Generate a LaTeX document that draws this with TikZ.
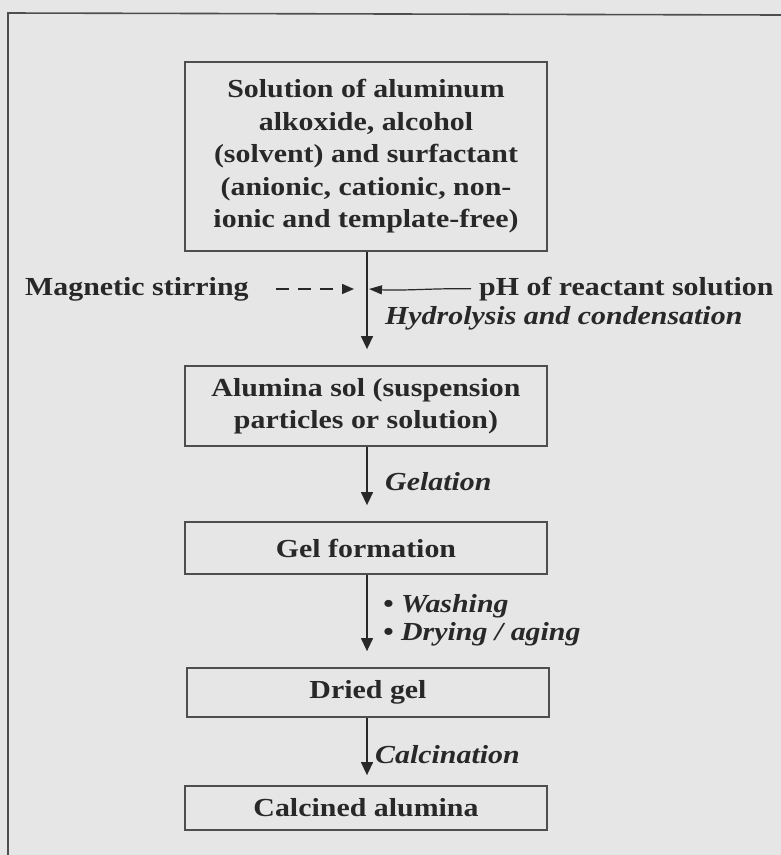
\documentclass[tikz,border=0pt]{standalone}
\usepackage{fontspec}
\setmainfont{Liberation Serif}[FakeStretch=1.15]
\usepackage{tikz}
\usetikzlibrary{positioning, arrows.meta}

\definecolor{paper}{RGB}{230,230,230}
\definecolor{ink}{RGB}{40,40,40}
\definecolor{edge}{RGB}{78,78,78}

\begin{document}
\begin{tikzpicture}[
  x=1pt, y=-1pt,
  font=\fontsize{26}{32.5}\selectfont\bfseries,
  text=ink,
  stepbox/.style={draw=edge, line width=1.8pt, minimum width=362pt,
    inner sep=0pt, align=center},
  flow/.style={draw=ink, line width=1.3pt, shorten >=16pt,
    -{Triangle[length=13pt,width=12pt]}},
  proc/.style={font=\fontsize{26}{28}\selectfont\bfseries\itshape, anchor=west,
    align=left, inner sep=0pt},
  side/.style={anchor=west, inner sep=0pt},
]
  % page and frame
  \useasboundingbox[fill=paper] (0,0) rectangle (781,855);
  \draw[edge, line width=1.6pt] (8,855) -- (8,13) -- (781,15);

  % process boxes
  \node[stepbox, minimum height=189pt] (sol) at (366,156.5)
    {Solution of aluminum\\ alkoxide, alcohol\\ (solvent) and surfactant\\
     (anionic, cationic, non-\\ ionic and template-free)};
  \node[stepbox, minimum height=80pt] (alsol) at (366,406)
    {Alumina sol (suspension\\ particles or solution)};
  \node[stepbox, minimum height=52pt] (gel) at (366,548) {Gel formation};
  \node[stepbox, minimum height=49pt] (dried) at (368,692.5) {Dried gel};
  \node[stepbox, minimum height=44pt] (calc) at (366,808) {Calcined alumina};

  % main flow
  \draw[flow] (sol.south -| 367,0) -- (alsol.north -| 367,0);
  \draw[flow] (alsol.south -| 367,0) -- (gel.north -| 367,0);
  \draw[flow] (gel.south -| 367,0) -- (dried.north -| 367,0);
  \draw[flow, shorten >=10pt] (dried.south -| 367,0) -- (calc.north -| 367,0);

  % side inputs
  \node[side] (stir) at (25,289) {Magnetic stirring};
  \node[side] (ph) at (479,289) {pH of reactant solution};
  \coordinate (stirend) at (354,289);
  \coordinate (phend) at (369,289);
  \draw[ink, line width=1.5pt, dash pattern=on 13pt off 9pt,
    -{Triangle[length=12pt,width=10pt]}, shorten <=27pt] (stir.east) -- (stirend);
  \draw[ink, line width=1.2pt, -{Triangle[length=13pt,width=9pt]},
    shorten <=8pt] (ph.west) .. controls (440,288) and (400,291) .. (phend);

  % process labels
  \node[proc] (hyd) at (385,318) {Hydrolysis and condensation};
  \node[proc] (gelat) at (385,482) {Gelation};
  \node[proc] (wash) at (383,620) {\textbullet\ Washing\\ \textbullet\ Drying / aging};
  \node[proc] (calcin) at (375,755) {Calcination};
\end{tikzpicture}
\end{document}
